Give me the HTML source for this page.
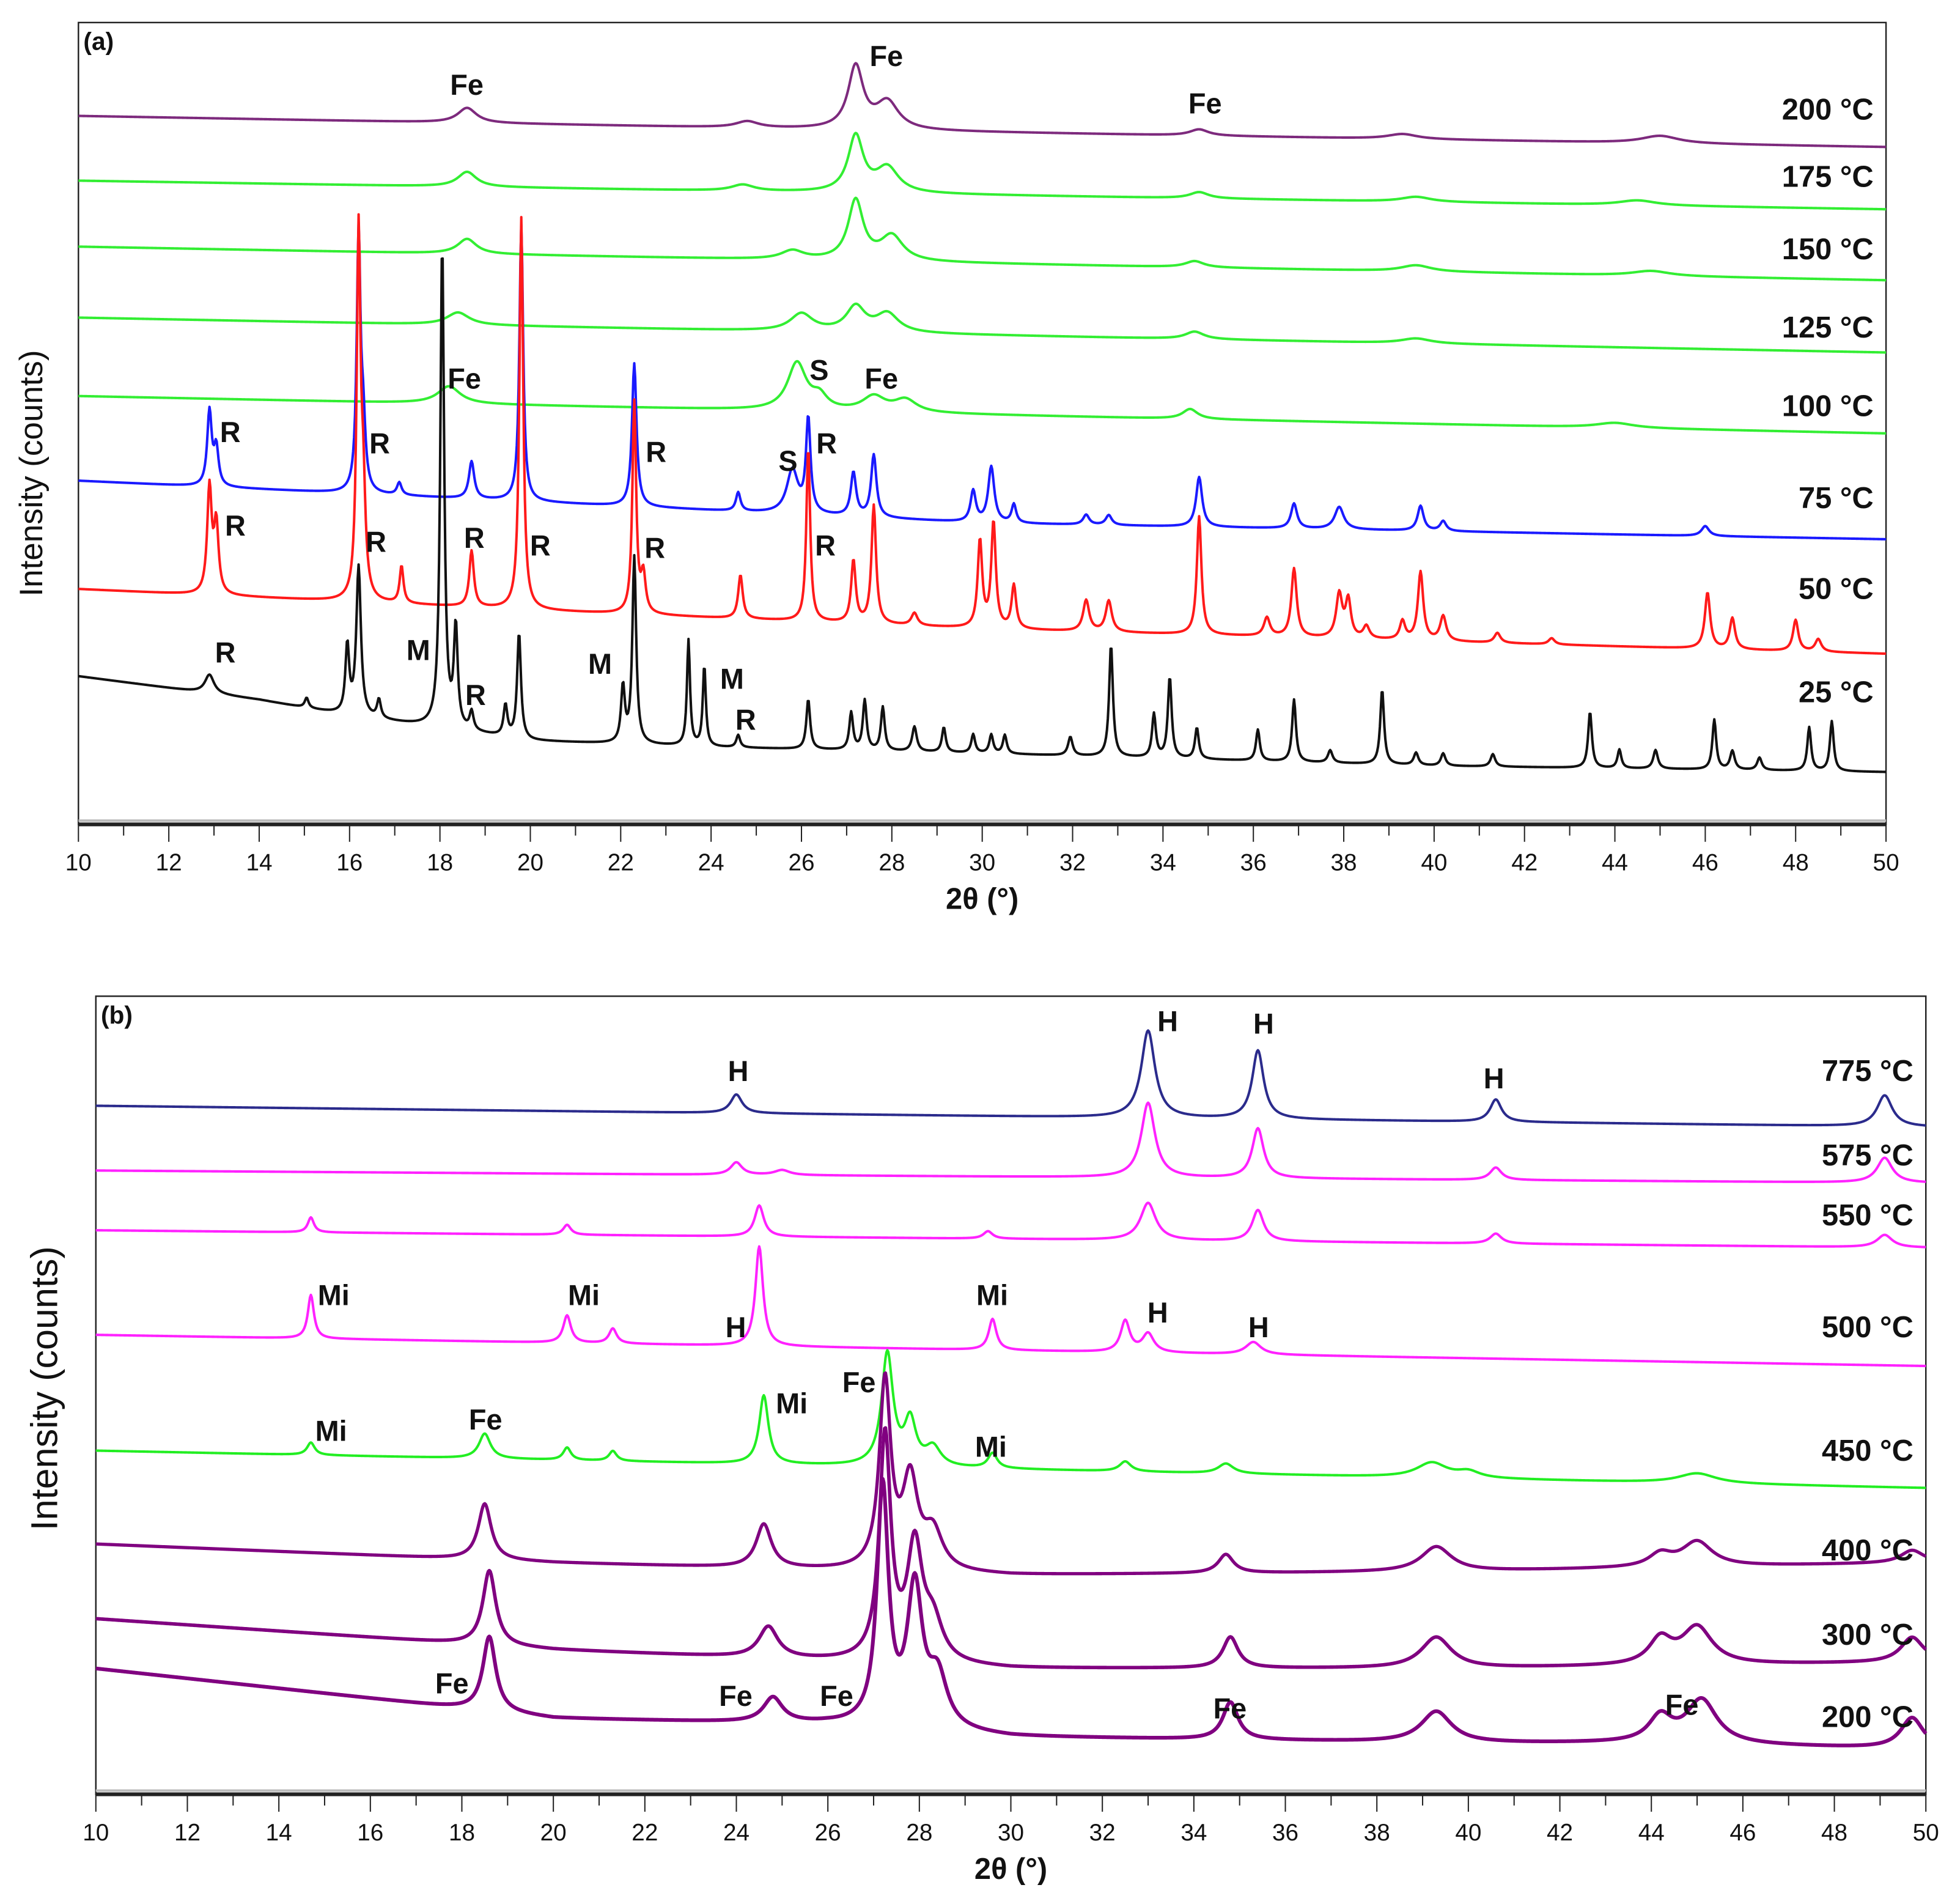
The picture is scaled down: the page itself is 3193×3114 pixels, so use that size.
<!DOCTYPE html>
<html><head><meta charset="utf-8"><style>
html,body{margin:0;padding:0;background:#fff;}
svg{display:block;}
text{font-family:"Liberation Sans",sans-serif;}
.pk{font-weight:bold;font-size:23px;fill:#111;}
.tl{font-weight:bold;font-size:24px;fill:#111;text-anchor:end;}
.tk{font-size:19px;fill:#111;text-anchor:middle;}
</style></head><body>
<svg id="chart" width="3193" height="3114" viewBox="0 0 1568 1529" xmlns="http://www.w3.org/2000/svg">
<g id="panelA"></g>
<g id="panelB"></g>
</svg>
<script>
// ---------- Panel (a) data : intensity (a.u.), peaks = [2theta, height, hwhm] ----------
const aTemps = ["200 °C","175 °C","150 °C","125 °C","100 °C","75 °C","50 °C","25 °C"];
const aColors = ["#7d2a7d","#33ee33","#33ee33","#33ee33","#33ee33","#1a1aff","#ff1a1a","#111111"];
const aBase200 = [[10,569],[30,556],[50,544]];
const aBase175 = [[10,517],[50,494]];
const aBase150 = [[10,464],[50,437]];
const aBase125 = [[10,407],[50,379]];
const aBase100 = [[10,344],[50,314]];
const aBase75 = [[10,276],[30,242],[50,229]];
const aBase50 = [[10,189],[20,172],[30,157],[50,137]];
const aBase25 = [[10,119],[14,100],[16,87],[20,67],[24,62],[30,57],[40,47],[50,42]];
const aPeaks200 = [[18.6,12,0.25],[24.8,5,0.3],[27.2,50,0.2],[27.9,22,0.3],[34.8,5,0.25],[39.3,4,0.4],[45,6,0.5]];
const aPeaks175 = [[18.6,12,0.25],[24.7,5,0.3],[27.2,45,0.2],[27.9,20,0.3],[34.8,5,0.25],[39.6,4,0.4],[44.5,4,0.5]];
const aPeaks150 = [[18.6,12,0.25],[25.8,7,0.3],[27.2,48,0.2],[28,20,0.3],[34.7,5,0.25],[39.6,5,0.4],[44.8,4,0.5]];
const aPeaks125 = [[18.4,10,0.3],[26,14,0.3],[27.2,20,0.25],[27.9,15,0.3],[34.7,6,0.25],[39.6,4,0.4]];
const aPeaks100 = [[18.2,14,0.3],[25.9,38,0.25],[26.4,10,0.2],[27.6,12,0.3],[28.3,10,0.3],[34.6,8,0.2],[44,4,0.5]];
const aPeaks75 = [[12.9,60,0.06],[13.05,30,0.06],[16.2,205,0.05],[16.3,50,0.06],[17.1,10,0.06],[18.7,30,0.07],[19.8,222,0.05],[22.3,115,0.06],[24.6,15,0.06],[25.8,35,0.15],[26.15,75,0.06],[27.15,35,0.07],[27.6,50,0.07],[29.8,25,0.07],[30.2,45,0.08],[30.7,15,0.06],[32.3,8,0.08],[32.8,8,0.08],[34.8,40,0.08],[36.9,20,0.08],[37.9,18,0.12],[39.7,20,0.08],[40.2,8,0.08],[46,8,0.1]];
const aPeaks50 = [[12.9,85,0.06],[13.05,55,0.06],[16.2,290,0.05],[16.3,80,0.06],[17.15,30,0.05],[18.7,45,0.06],[19.8,315,0.05],[22.3,170,0.05],[22.5,30,0.06],[24.65,35,0.06],[26.15,140,0.05],[27.15,50,0.06],[27.6,95,0.06],[28.5,10,0.08],[29.95,70,0.06],[30.25,85,0.06],[30.7,35,0.06],[32.3,25,0.08],[32.8,25,0.08],[34.8,95,0.06],[36.3,15,0.08],[36.9,55,0.07],[37.9,35,0.08],[38.1,30,0.07],[38.5,10,0.08],[39.3,15,0.07],[39.7,55,0.07],[40.2,20,0.08],[41.4,8,0.08],[42.6,5,0.08],[46.05,45,0.07],[46.6,25,0.07],[48,25,0.07],[48.5,10,0.08]];
const aPeaks25 = [[12.9,15,0.12],[15.05,8,0.05],[15.95,55,0.05],[16.2,120,0.06],[16.65,15,0.05],[18.05,390,0.05],[18.35,80,0.05],[18.7,15,0.05],[19.45,25,0.05],[19.75,85,0.05],[22.05,45,0.05],[22.3,150,0.05],[23.5,85,0.04],[23.85,65,0.04],[24.6,10,0.05],[26.15,40,0.05],[27.1,30,0.05],[27.4,40,0.05],[27.8,35,0.05],[28.5,20,0.06],[29.15,20,0.05],[29.8,15,0.05],[30.2,15,0.05],[30.5,15,0.05],[31.95,15,0.06],[32.85,90,0.05],[33.8,35,0.05],[34.15,65,0.05],[34.75,25,0.05],[36.1,25,0.05],[36.9,50,0.05],[37.7,10,0.06],[38.85,60,0.05],[39.6,10,0.06],[40.2,10,0.06],[41.3,10,0.06],[43.45,45,0.05],[44.1,15,0.05],[44.9,15,0.06],[46.2,40,0.05],[46.6,15,0.06],[47.2,10,0.06],[48.3,35,0.05],[48.8,40,0.05]];
const aBases = [aBase200,aBase175,aBase150,aBase125,aBase100,aBase75,aBase50,aBase25];
const aPeaks = [aPeaks200,aPeaks175,aPeaks150,aPeaks125,aPeaks100,aPeaks75,aPeaks50,aPeaks25];

// ---------- Panel (b) data ----------
const bTemps = ["775 °C","575 °C","550 °C","500 °C","450 °C","400 °C","300 °C","200 °C"];
const bColors = ["#2b2b8c","#ff22ff","#ff22ff","#ff22ff","#22ee22","#800080","#800080","#800080"];
const bBase775 = [[10,553],[50,536]];
const bBase575 = [[10,501],[50,491]];
const bBase550 = [[10,453],[50,439]];
const bBase500 = [[10,369],[50,344]];
const bBase450 = [[10,276],[50,246]];
const bBase400 = [[10,201],[20,186],[30,176],[40,179],[50,186]];
const bBase300 = [[10,141],[20,116],[30,101],[40,101],[50,106]];
const bBase200 = [[10,101],[20,61],[26,56],[30,46],[40,41],[44,41],[50,36]];
const bPeaks775 = [[24,15,0.15],[33,70,0.18],[35.4,55,0.15],[40.6,18,0.15],[49.1,25,0.2]];
const bPeaks575 = [[24,10,0.15],[25,4,0.2],[33,60,0.18],[35.4,40,0.15],[40.6,10,0.15],[49.1,20,0.2]];
const bPeaks550 = [[14.7,12,0.08],[20.3,8,0.1],[24.5,25,0.12],[29.5,6,0.12],[33,30,0.2],[35.4,25,0.15],[40.6,8,0.15],[49.1,10,0.2]];
const bPeaks500 = [[14.7,35,0.08],[20.3,22,0.1],[21.3,12,0.1],[24.5,80,0.1],[29.6,25,0.1],[32.5,25,0.12],[33,15,0.15],[35.3,10,0.2]];
const bPeaks450 = [[14.7,10,0.1],[18.5,20,0.15],[20.3,10,0.1],[21.3,8,0.1],[24.6,55,0.12],[27.3,90,0.15],[27.8,35,0.15],[28.3,15,0.2],[29.6,12,0.12],[32.5,8,0.15],[34.7,8,0.2],[39.2,12,0.4],[40,5,0.3],[45,8,0.5]];
const bPeaks400 = [[18.5,45,0.17],[24.6,35,0.2],[27.25,150,0.15],[27.8,70,0.2],[28.3,30,0.25],[34.7,15,0.2],[39.3,20,0.4],[44.2,10,0.3],[45,20,0.4],[49.7,10,0.3]];
const bPeaks300 = [[18.6,60,0.17],[24.7,25,0.25],[27.25,180,0.15],[27.9,90,0.2],[28.3,30,0.25],[34.8,25,0.2],[39.3,25,0.4],[44.2,20,0.3],[45,30,0.4],[49.7,20,0.3]];
const bPeaks200 = [[18.6,60,0.17],[24.8,20,0.25],[27.2,190,0.15],[27.9,110,0.2],[28.4,40,0.25],[34.8,30,0.2],[39.3,25,0.4],[44.2,20,0.3],[45.1,35,0.4],[49.7,25,0.3]];
const bBases = [bBase775,bBase575,bBase550,bBase500,bBase450,bBase400,bBase300,bBase200];
const bPeaks = [bPeaks775,bPeaks575,bPeaks550,bPeaks500,bPeaks450,bPeaks400,bPeaks300,bPeaks200];

const ticks = [10,12,14,16,18,20,22,24,26,28,30,32,34,36,38,40,42,44,46,48,50];

const NS = "http://www.w3.org/2000/svg";
function mk(tag, attrs, parent){const e=document.createElementNS(NS,tag);for(const k in attrs)e.setAttribute(k,attrs[k]);parent.appendChild(e);return e;}
function interp(knots,t){for(let i=0;i<knots.length-1;i++){const a=knots[i],b=knots[i+1];if(t<=b[0]){return a[1]+(b[1]-a[1])*(t-a[0])/(b[0]-a[0]);}}return knots[knots.length-1][1];}

function panel(g, P, bases, peaks, colors, temps, tempY, letter, ann, widths){
  const xs = t => P.L + (t-10)/40*(P.R-P.L);
  const ys = v => P.B - v;
  const fr = mk('rect',{x:P.L,y:P.T,width:P.R-P.L,height:P.B-P.T,fill:'none',stroke:'#222','stroke-width':1.2},g);
   
  for(let s=0;s<bases.length;s++){
    let d='';
    for(let t=10;t<=50.0001;t+=0.02){
      let v=interp(bases[s],t);
      for(const p of peaks[s]){const z=(t-p[0])/p[2];v+=p[1]/(1+z*z);}
      d+=(d?'L':'M')+xs(t).toFixed(2)+','+ys(v).toFixed(2);
    }
    const path=mk('path',{d:d,fill:'none',stroke:colors[s],'stroke-width':widths[s],'stroke-linejoin':'round'},g);
    
    
    const lb=mk('text',{x:P.R-10,y:tempY[s],class:'tl'},g); lb.textContent=temps[s];
    
    
  }
  const ax=mk('line',{x1:P.L,y1:P.B,x2:P.R,y2:P.B,stroke:'#222','stroke-width':3},g);
   
  mk('line',{x1:P.L,y1:P.B-3,x2:P.R,y2:P.B-3,stroke:'#bbb','stroke-width':2},g);
  for(let t=10;t<=50;t+=1){
    const maj=(t%2===0);
    const tk=mk('line',{x1:xs(t),y1:P.B,x2:xs(t),y2:P.B+(maj?14:9),stroke:'#222','stroke-width':1},g);
     
  }
  for(const t of ticks){
    const tl=mk('text',{x:xs(t),y:P.B+37,class:'tk'},g); tl.textContent=t;
     
  }
  const xt=mk('text',{x:(P.L+P.R)/2,y:P.B+68,'text-anchor':'middle','font-size':24,'font-weight':'bold',fill:'#111'},g);
  xt.textContent='2θ (°)';
   
  const yt=mk('text',{x:0,y:0,'text-anchor':'middle','font-size':P.yfs,fill:'#111',transform:'translate('+P.yx+','+P.yc+') rotate(-90)'},g);
  yt.textContent='Intensity (counts)';
   
  const pl=mk('text',{x:P.L+4,y:P.T+22,'font-size':20,'font-weight':'bold',fill:'#111'},g); pl.textContent=letter;
   
  for(const a of ann){
    const e=mk('text',{x:a[1],y:a[2],class:'pk','text-anchor':'middle'},g); e.textContent=a[0];
     
  }
}

const annA=[["Fe",375,76],["Fe",712,53],["Fe",968,91],["Fe",373,312],["S",658,305],["Fe",708,312],["R",185,355],["R",305,364],["R",527,371],["S",633,378],["R",664,364],["R",189,430],["R",302,443],["R",381,440],["R",434,446],["R",526,448],["R",663,446],["R",181,532],["M",336,530],["R",382,566],["M",482,541],["M",588,553],["R",599,586]];
const annB=[["H",593,868],["H",938,828],["H",1015,830],["H",1200,874],["Mi",268,1048],["Mi",469,1048],["Mi",797,1048],["H",591,1074],["H",930,1062],["H",1011,1074],["Mi",266,1157],["Fe",390,1148],["Mi",636,1135],["Fe",690,1118],["Mi",796,1170],["Fe",363,1360],["Fe",591,1370],["Fe",672,1370],["Fe",988,1380],["Fe",1351,1377]];

panel(document.getElementById('panelA'),{L:63,R:1515,T:18,B:662,yx:34,yc:380,yfs:26},aBases,aPeaks,aColors,aTemps,[96,150,208,271,334,408,481,564],'(a)',annA,[2,2,2,2,2,2,2,2]);
panel(document.getElementById('panelB'),{L:77,R:1547,T:800,B:1441,yx:46,yc:1115,yfs:30},bBases,bPeaks,bColors,bTemps,[868,936,984,1074,1173,1253,1321,1387],'(b)',annB,[2,2,2,2,2,2.6,2.8,3]);
</script>
</body></html>
